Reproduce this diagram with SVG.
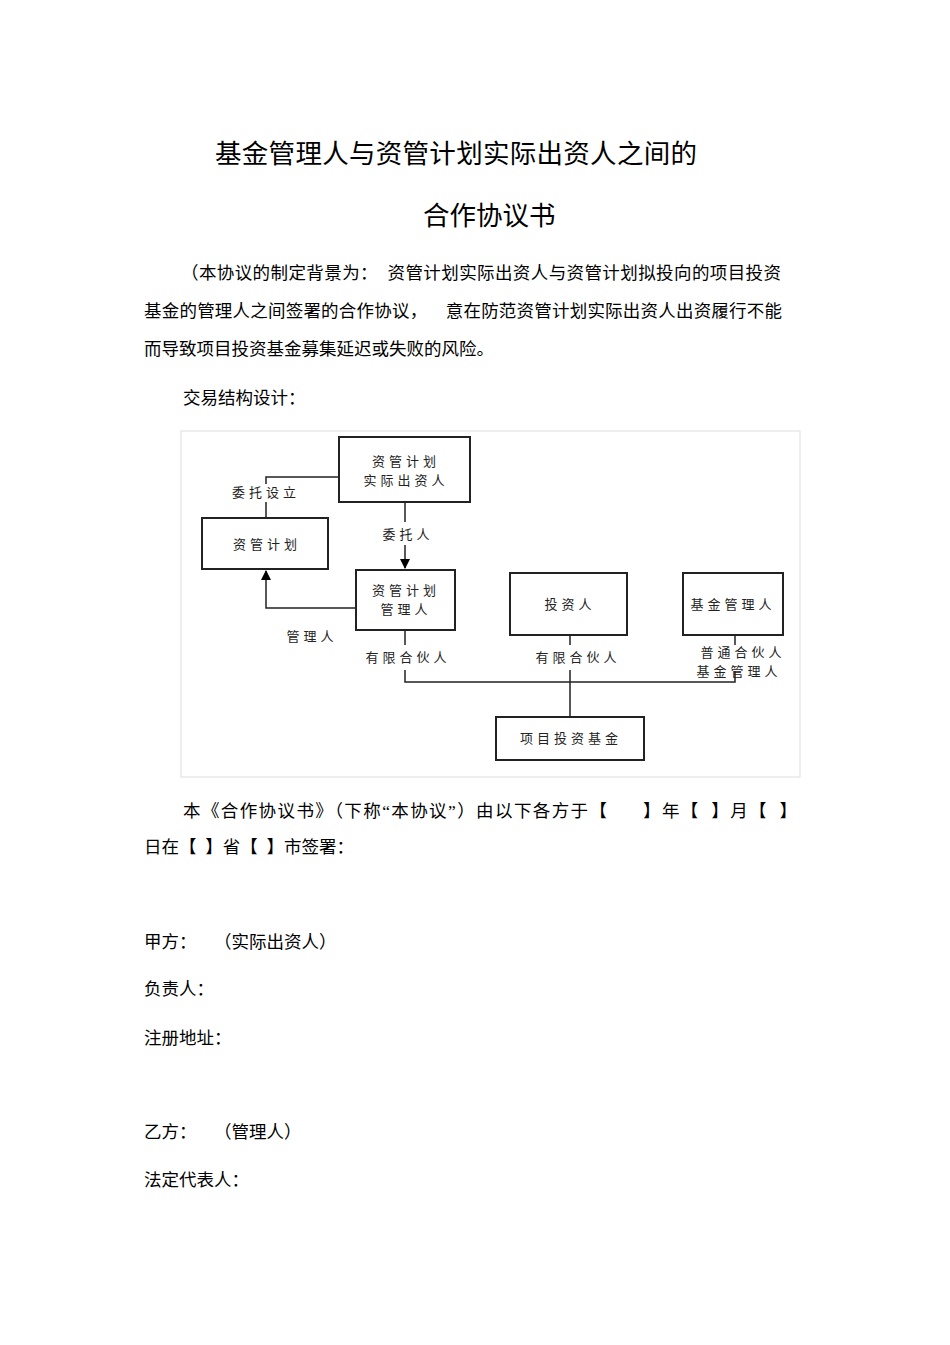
<svg xmlns="http://www.w3.org/2000/svg" width="950" height="1345" viewBox="0 0 950 1345" xml:space="preserve">
<style>
text{font-family:"Liberation Serif","Noto Sans CJK SC",serif;fill:#000;white-space:pre}
.b{font-size:17.5px}
.t{font-size:26.5px}
.d{font-family:"Noto Sans CJK SC",sans-serif;font-size:13px;letter-spacing:4px;fill:#222;text-anchor:middle}
.n{fill:#fff;stroke:#222;stroke-width:2}
.c{fill:none;stroke:#222;stroke-width:1.5}
</style>
<defs><marker id="a" markerWidth="10" markerHeight="10" refX="9" refY="5" orient="auto" markerUnits="userSpaceOnUse"><path d="M0,0L10,5L0,10z" fill="#000"/></marker></defs>
<rect width="950" height="1345" fill="#fff"/>
<text class="t" x="215" y="163" textLength="482">基金管理人与资管计划实际出资人之间的</text>
<text class="t" x="423" y="225">合作协议书</text>
<text class="b" x="181" y="279" textLength="600">（本协议的制定背景为：  资管计划实际出资人与资管计划拟投向的项目投资</text>
<text class="b" x="144" y="317" textLength="638">基金的管理人之间签署的合作协议，    意在防范资管计划实际出资人出资履行不能</text>
<text class="b" x="144" y="355">而导致项目投资基金募集延迟或失败的风险。</text>
<text class="b" x="183" y="404">交易结构设计：</text>
<rect x="181" y="431" width="619" height="346" fill="none" stroke="#ddd" stroke-width="1"/>
<g id="connectors">
<path class="c" d="M339,477H266V484M266,502V518"/>
<path class="c" d="M405,502V522M405,545V568" marker-end="url(#a)"/>
<path class="c" d="M356,608H266V571" marker-end="url(#a)"/>
<path class="c" d="M405,630V645M405,670V682H735V671M735,635V645"/>
<path class="c" d="M570,635V645M570,670V717"/>
</g>
<g id="n1"><rect class="n" x="339" y="437" width="131" height="65"/><text class="d" x="406" y="466">资管计划</text><text class="d" x="406" y="485">实际出资人</text></g>
<g id="n2"><rect class="n" x="202" y="518" width="126" height="51"/><text class="d" x="267" y="549">资管计划</text></g>
<g id="n3"><rect class="n" x="356" y="570" width="99" height="60"/><text class="d" x="406" y="595">资管计划</text><text class="d" x="406" y="614">管理人</text></g>
<g id="n4"><rect class="n" x="510" y="573" width="117" height="62"/><text class="d" x="570" y="609">投资人</text></g>
<g id="n5"><rect class="n" x="683" y="573" width="100" height="62"/><text class="d" x="733" y="609">基金管理人</text></g>
<g id="n6"><rect class="n" x="496" y="717" width="148" height="43"/><text class="d" x="571" y="743">项目投资基金</text></g>
<g id="labels">
<text class="d" x="266" y="497">委托设立</text>
<text class="d" x="408" y="539">委托人</text>
<text class="d" x="312" y="641">管理人</text>
<text class="d" x="408" y="662">有限合伙人</text>
<text class="d" x="578" y="662">有限合伙人</text>
<text class="d" x="743" y="657">普通合伙人</text>
<text class="d" x="739" y="676">基金管理人</text>
</g>
<text class="b" x="183" y="817" textLength="614">本《合作协议书》（下称“本协议”）由以下各方于【      】年【  】月【  】</text>
<text class="b" x="144" y="853">日在【  】省【  】市签署：</text>
<text class="b" x="144" y="948">甲方：    （实际出资人）</text>
<text class="b" x="144" y="995">负责人：</text>
<text class="b" x="144" y="1044">注册地址：</text>
<text class="b" x="144" y="1138">乙方：    （管理人）</text>
<text class="b" x="144" y="1186">法定代表人：</text>
</svg>
